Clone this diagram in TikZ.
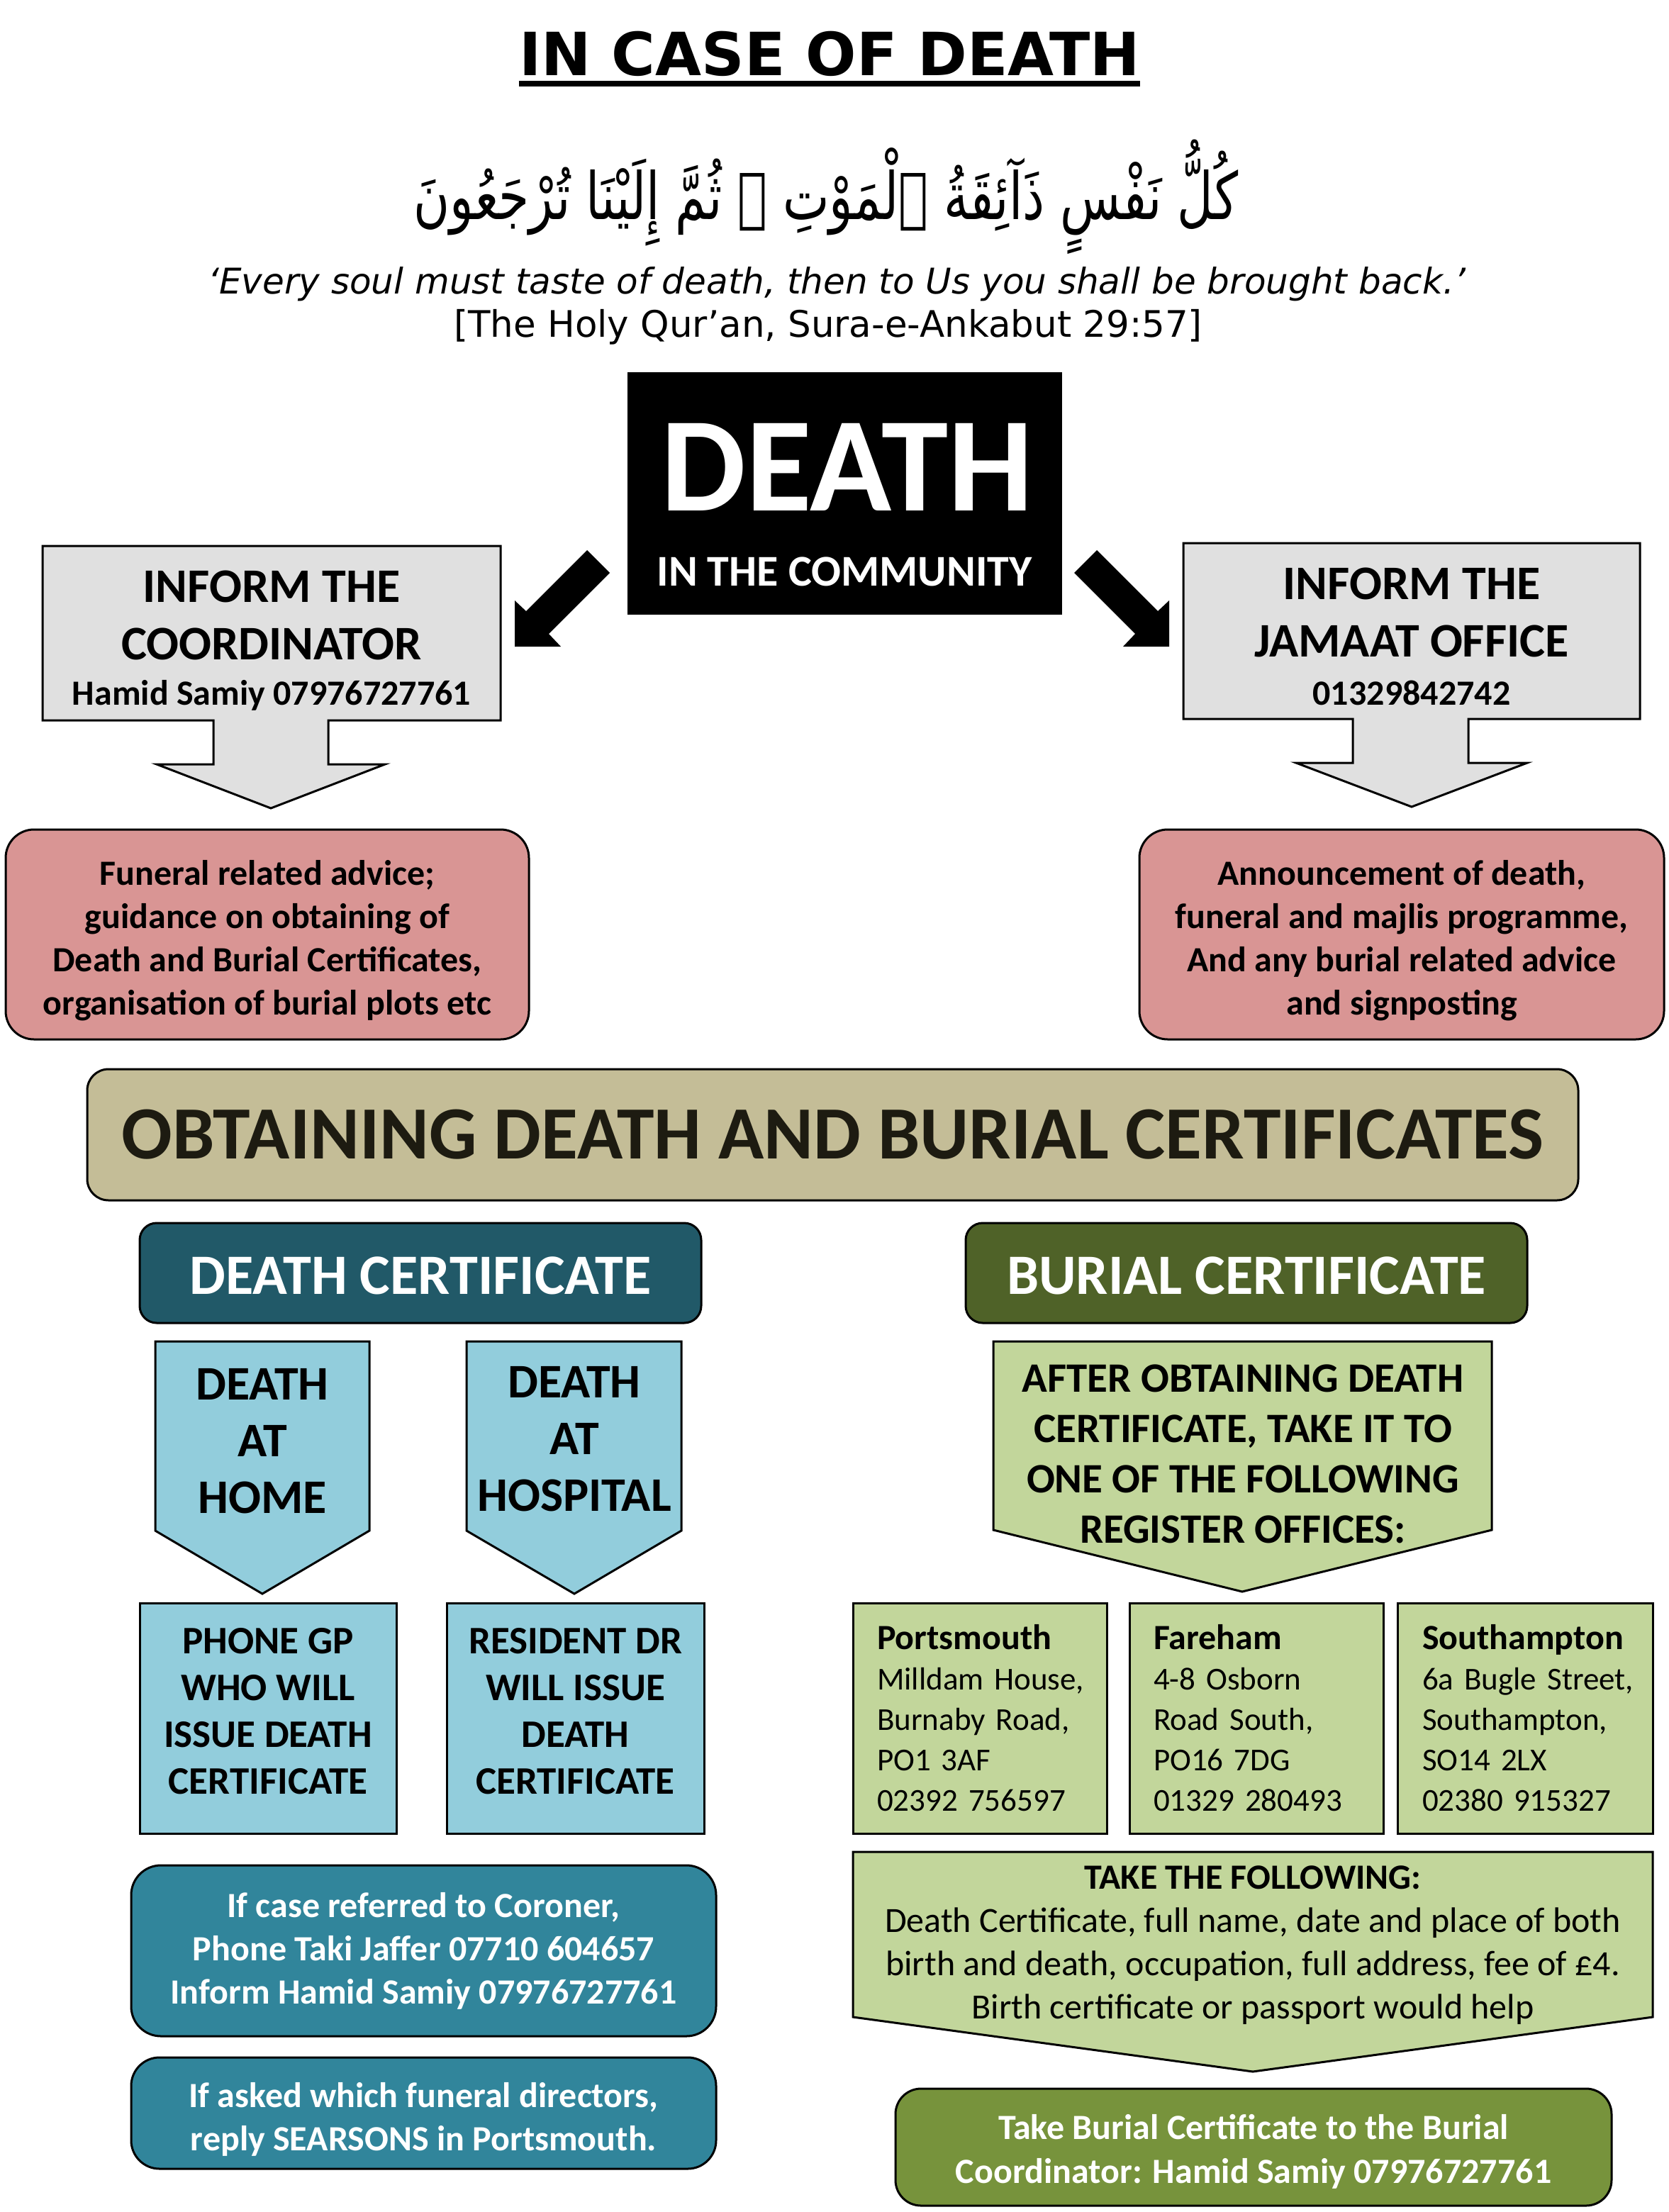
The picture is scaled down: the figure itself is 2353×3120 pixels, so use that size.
\documentclass[tikz,border=0pt]{standalone}
\usepackage{fontspec}
\setmainfont{Carlito}
\newfontfamily\titlefont{DejaVu Sans}
\newfontfamily\arabicfont[Script=Arabic]{DejaVu Sans}
\TeXXeTstate=1
\usetikzlibrary{calc,positioning}
\definecolor{greybox}{RGB}{224,224,224}
\definecolor{pinkbox}{RGB}{217,149,148}
\definecolor{tanbox}{RGB}{196,189,151}
\definecolor{tantext}{RGB}{29,27,17}
\definecolor{deathhead}{RGB}{33,89,104}
\definecolor{burialhead}{RGB}{79,98,40}
\definecolor{lightblue}{RGB}{146,205,220}
\definecolor{midblue}{RGB}{49,133,155}
\definecolor{lightgreen}{RGB}{194,214,155}
\definecolor{midgreen}{RGB}{119,147,60}
\tikzset{
outline/.style={
  draw=black,
  line width=3pt
},
blocktext/.style={
  align=center,
  inner sep=0pt,
  font=\bfseries
},
headingtext/.style={
  inner sep=0pt,
  font=\fontsize{84}{100}\selectfont\titlefont\bfseries
},
quotetext/.style={
  inner sep=0pt,
  font=\fontsize{50}{60}\selectfont\titlefont\itshape
},
greycallout/.style={
  outline,
  fill=greybox
},
infobox/.style={
  outline,
  rounded corners=40pt,
  fill=pinkbox,
  minimum width=738pt,
  minimum height=296pt
},
infotext/.style={
  blocktext,
  font=\fontsize{50}{61}\selectfont\bfseries
},
sectionbox/.style={
  outline,
  rounded corners=24pt,
  minimum width=792pt,
  minimum height=141pt
},
sectiontext/.style={
  blocktext,
  text=white,
  font=\fontsize{80.5}{90}\selectfont\bfseries
},
stepbox/.style={
  outline,
  fill=lightblue,
  minimum height=325pt
},
steptext/.style={
  blocktext,
  font=\fontsize{55}{66}\selectfont\bfseries
},
officebox/.style={
  outline,
  fill=lightgreen,
  minimum height=325pt,
  text width=290pt,
  inner xsep=34pt,
  align=left,
  font=\fontsize{45}{57}\selectfont
},
notebox/.style={
  outline,
  rounded corners=42pt,
  fill=midblue,
  minimum width=825pt
},
notetext/.style={
  blocktext,
  text=white,
  font=\fontsize{50}{61}\selectfont\bfseries
}
}
\begin{document}
\begin{tikzpicture}[x=1pt, y=-1pt]
\useasboundingbox (0,0) rectangle (2353,3120);

% heading and verse
\node[headingtext] (title) at (1170,76) {IN CASE OF DEATH};
\draw[line width=8pt] ($(title.base west)+(0,11)$) -- ($(title.base east)+(0,11)$);
\node[inner sep=0pt] (verse) at (1165,278)
  {\resizebox{1163pt}{112pt}{\arabicfont\beginR كُلُّ نَفْسٍ ذَآئِقَةُ ٱلْمَوْتِ ۖ ثُمَّ إِلَيْنَا تُرْجَعُونَ\endR}};
\node[quotetext] (quote) at (1180,401) {‘Every soul must taste of death, then to Us you shall be brought back.’};
\node[quotetext, font=\fontsize{51.5}{60}\selectfont\titlefont] (source) at (1168,461) {[The Holy Qur’an, Sura-e-Ankabut 29:57]};

% death in the community
\node[fill=black, minimum width=613pt, minimum height=342pt] (deathbox) at (1191.5,696) {};
\node[blocktext, text=white, font=\fontsize{190}{200}\selectfont\bfseries] (death) at (1195,659) {DEATH};
\node[blocktext, text=white, font=\fontsize{62}{74}\selectfont\bfseries] (community) at (1191,806) {IN THE COMMUNITY};
\fill (828,776) -- (742,862) -- (726,847) -- (726,912) -- (791,912) -- (774,894) -- (860,808) -- cycle;
\fill (1547,776) -- (1633,862) -- (1649,847) -- (1649,912) -- (1584,912) -- (1601,894) -- (1515,808) -- cycle;

% inform callouts
\draw[greycallout] (60,770) -- (706,770) -- (706,1016) -- (463,1016) -- (463,1078) -- (543,1078)
  -- (382,1140) -- (221,1078) -- (301,1078) -- (301,1016) -- (60,1016) -- cycle;
\draw[greycallout] (1669,766) -- (2313,766) -- (2313,1014) -- (2071,1014) -- (2071,1076) -- (2154,1076)
  -- (1991,1138) -- (1828,1076) -- (1908,1076) -- (1908,1014) -- (1669,1014) -- cycle;
\node[blocktext, font=\fontsize{68}{81}\selectfont\bfseries] (coord) at (383,868) {INFORM THE\\COORDINATOR};
\node[blocktext, font=\fontsize{50}{60}\selectfont\bfseries] (coordtel) at (383,981) {Hamid Samiy 07976727761};
\node[blocktext, font=\fontsize{68}{81}\selectfont\bfseries] (jamaat) at (1991,864) {INFORM THE\\JAMAAT OFFICE};
\node[blocktext, font=\fontsize{50}{60}\selectfont\bfseries] (jamaattel) at (1991,977) {01329842742};

\node[infobox] (advice) at (377,1318) {};
\node[infotext] (advicetext) at ([yshift=-9pt]advice.center) {Funeral related advice;\\guidance on obtaining of\\Death and Burial Certificates,\\organisation of burial plots etc};
\node[infobox, minimum width=740pt] (announce) at (1977,1318) {};
\node[infotext] (announcetext) at ([yshift=-9pt]announce.center) {Announcement of death,\\funeral and majlis programme,\\And any burial related advice\\and signposting};

% certificates
\node[outline, rounded corners=30pt, fill=tanbox, minimum width=2103pt, minimum height=185pt,
  blocktext, text=tantext, font=\fontsize{106}{120}\selectfont\bfseries] (obtaining) at (1174.5,1600.5)
  {OBTAINING DEATH AND BURIAL CERTIFICATES};
\node[sectionbox, fill=deathhead] (deathcert) at (593,1795.5) {};
\node[sectiontext] at ([yshift=-4pt]deathcert.center) {DEATH CERTIFICATE};
\node[sectionbox, fill=burialhead] (burialcert) at (1758,1795.5) {};
\node[sectiontext] at ([yshift=-4pt]burialcert.center) {BURIAL CERTIFICATE};

% death certificate column
\draw[outline, fill=lightblue] (219,1892) -- (521,1892) -- (521,2159) -- (370,2248) -- (219,2159) -- cycle;
\draw[outline, fill=lightblue] (658,1892) -- (961,1892) -- (961,2159) -- (810,2248) -- (658,2159) -- cycle;
\node[blocktext, font=\fontsize{68}{80}\selectfont\bfseries] (home) at (370,2033) {DEATH\\AT\\HOME};
\node[blocktext, font=\fontsize{68}{80}\selectfont\bfseries] (hospital) at (810,2030) {DEATH\\AT\\HOSPITAL};
\node[stepbox, minimum width=362pt] (gp) at (378,2423.5) {};
\node[steptext] (gptext) at ([yshift=10pt]gp.center) {PHONE GP\\WHO WILL\\ISSUE DEATH\\CERTIFICATE};
\node[stepbox, minimum width=363pt] (resident) at (811.5,2423.5) {};
\node[steptext] (residenttext) at ([yshift=10pt]resident.center) {RESIDENT DR\\WILL ISSUE\\DEATH\\CERTIFICATE};
\node[notebox, minimum height=241pt] (coroner) at (597.5,2751.5) {};
\node[notetext] (coronertext) at (coroner.center) {If case referred to Coroner,\\Phone Taki Jaffer 07710 604657\\Inform Hamid Samiy 07976727761};
\node[notebox, minimum height=157pt, rounded corners=40pt] (searsons) at (597.5,2980.5) {};
\node[notetext] (searsonstext) at ([yshift=-9pt]searsons.center) {If asked which funeral directors,\\reply SEARSONS in Portsmouth.};

% burial certificate column
\draw[outline, fill=lightgreen] (1401,1892) -- (2104,1892) -- (2104,2158) -- (1752,2245) -- (1401,2158) -- cycle;
\node[blocktext, font=\fontsize{59}{71}\selectfont\bfseries] (register) at (1753,2051)
  {AFTER OBTAINING DEATH\\CERTIFICATE, TAKE IT TO\\ONE OF THE FOLLOWING\\REGISTER OFFICES:};
\node[officebox] (portsmouth) at (1382,2423.5) {{\fontsize{50}{57}\selectfont\bfseries Portsmouth}\\\mbox{Milldam House,}\\\mbox{Burnaby Road,}\\PO1 3AF\\02392 756597};
\node[officebox] (fareham) at (1772,2423.5) {{\fontsize{50}{57}\selectfont\bfseries Fareham}\\\mbox{4-8 Osborn}\\\mbox{Road South,}\\PO16 7DG\\01329 280493};
\node[officebox, inner xsep=35pt] (southampton) at (2151,2423.5) {{\fontsize{50}{57}\selectfont\bfseries Southampton}\\\mbox{6a Bugle Street,}\\\mbox{Southampton,}\\SO14 2LX\\02380 915327};
\draw[outline, fill=lightgreen] (1203,2612) -- (2331,2612) -- (2331,2845) -- (1767,2922) -- (1203,2845) -- cycle;
\node[blocktext, font=\fontsize{50}{61}\selectfont] (takelist) at (1767,2744)
  {\textbf{TAKE THE FOLLOWING:}\\Death Certificate, full name, date and place of both\\birth and death, occupation, full address, fee of £4.\\Birth certificate or passport would help};
\node[outline, rounded corners=36pt, fill=midgreen, minimum width=1010pt, minimum height=165pt] (burialcoord) at (1768,3028.5) {};
\node[blocktext, text=white, font=\fontsize{50}{62}\selectfont\bfseries] (burialcoordtext) at ([yshift=-6pt]burialcoord.center)
  {Take Burial Certificate to the Burial\\Coordinator: Hamid Samiy 07976727761};
\end{tikzpicture}
\end{document}
